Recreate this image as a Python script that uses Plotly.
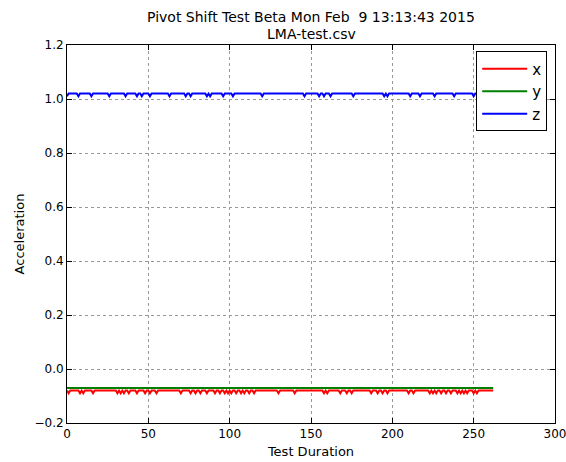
import plotly.graph_objects as go

# ---- data ----
N_SAMPLES = 263                      # test duration samples 0..262
TIME = list(range(N_SAMPLES))

X_LEVEL = -0.08
X_DIP_LEVEL = -0.09
X_DIPS = [1, 8, 10, 16, 31, 33, 35, 38, 43, 48, 51, 55, 70, 76, 79, 82, 86, 91,
          94, 97, 99, 101, 104, 107, 109, 112, 115, 130, 140, 158, 160, 168, 172,
          175, 187, 191, 194, 197, 210, 213, 223, 225, 227, 230, 233, 236, 240,
          242, 244, 246, 250, 252]

Y_LEVEL = -0.07

Z_LEVEL = 1.02
Z_DIP_LEVEL = 1.01
Z_DIPS = [0, 7, 15, 26, 36, 43, 46, 51, 63, 73, 76, 86, 88, 96, 102, 120, 146,
          155, 158, 162, 176, 195, 197, 211, 217, 226, 238, 250, 256]

X_TICKS = [0, 50, 100, 150, 200, 250, 300]
Y_TICKS = [-0.2, 0.0, 0.2, 0.4, 0.6, 0.8, 1.0, 1.2]
Y_TICK_TEXT = ["\u22120.2", "0.0", "0.2", "0.4", "0.6", "0.8", "1.0", "1.2"]

TITLE_LINES = ["Pivot Shift Test Beta Mon Feb\u00a0 9 13:13:43 2015", "LMA-test.csv"]

x_vals = [X_DIP_LEVEL if t in X_DIPS else X_LEVEL for t in TIME]
y_vals = [Y_LEVEL for t in TIME]
z_vals = [Z_DIP_LEVEL if t in Z_DIPS else Z_LEVEL for t in TIME]

FONT = "DejaVu Sans"

fig = go.Figure()
fig.add_trace(go.Scatter(x=TIME, y=x_vals, mode="lines", name="x",
                         line=dict(color="#ff0000", width=2)))
fig.add_trace(go.Scatter(x=TIME, y=y_vals, mode="lines", name="y",
                         line=dict(color="#008000", width=2)))
fig.add_trace(go.Scatter(x=TIME, y=z_vals, mode="lines", name="z",
                         line=dict(color="#0000ff", width=2)))

axis_common = dict(
    showline=True, linecolor="black", linewidth=1, mirror="allticks",
    ticks="inside", ticklen=5, tickcolor="black", tickwidth=1,
    showgrid=True, gridcolor="#999999", griddash="dot", gridwidth=1,
    zeroline=False, automargin=False, ticklabeloverflow="allow",
    tickfont=dict(family=FONT, size=12, color="black"),
)

fig.update_layout(
    width=566, height=462,
    margin=dict(l=67, r=11, t=45, b=39, autoexpand=False),
    paper_bgcolor="white", plot_bgcolor="white",
    font=dict(family=FONT, color="black"),
    xaxis=dict(range=[0, 300], tickvals=X_TICKS,
               title=dict(text="Test Duration", font=dict(family=FONT, size=13), standoff=6),
               **axis_common),
    yaxis=dict(range=[-0.2, 1.2], tickvals=Y_TICKS, ticktext=Y_TICK_TEXT,
               title=dict(text="Acceleration", font=dict(family=FONT, size=13), standoff=6),
               **axis_common),
    legend=dict(x=0.984, y=0.983, xanchor="right", yanchor="top",
                bgcolor="white", bordercolor="black", borderwidth=1,
                font=dict(family=FONT, size=15, color="black"),
                itemwidth=45, tracegroupgap=0),
    showlegend=True,
)

for i, (line, ypx) in enumerate(zip(TITLE_LINES, [17, 34])):
    fig.add_annotation(text=line, xref="paper", x=0.5, xanchor="center",
                       yref="paper", y=1 + (45 - ypx) / 378, yanchor="middle",
                       showarrow=False,
                       font=dict(family=FONT, size=14, color="black"))

fig.write_html("out.html")
